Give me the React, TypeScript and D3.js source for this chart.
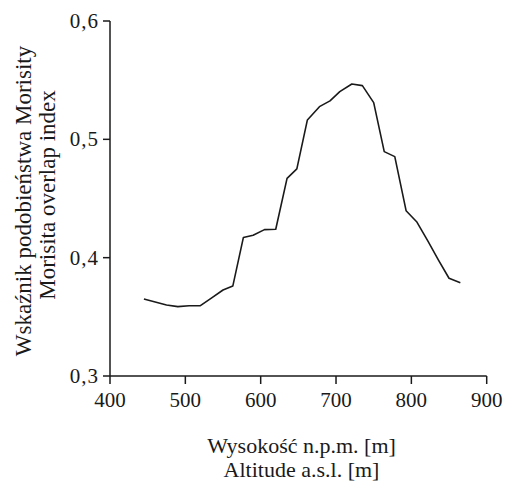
import React from "react";
import * as d3 from "d3";

const altitudes = [445, 475, 490, 505, 520, 535, 550, 563, 577, 590, 605, 620, 635, 648, 662, 678, 692, 705, 721, 735, 750, 764, 778, 793, 807, 822, 836, 850, 865];
const morisita = [0.365, 0.36, 0.3586, 0.3594, 0.3594, 0.366, 0.3727, 0.376, 0.417, 0.419, 0.4237, 0.424, 0.467, 0.475, 0.5164, 0.5276, 0.5325, 0.5403, 0.5468, 0.5454, 0.531, 0.4896, 0.4854, 0.4397, 0.4304, 0.414, 0.398, 0.3826, 0.3789];
const xTicks = [400, 500, 600, 700, 800, 900];
const yTicks = [0.3, 0.4, 0.5, 0.6];
const yTickLabels = ["0,3", "0,4", "0,5", "0,6"];
const xTitle = ["Wysokość n.p.m. [m]", "Altitude a.s.l. [m]"];
const yTitle = ["Wskaźnik podobieństwa Morisity", "Morisita overlap index"];

export default function App() {
  const W = 505, H = 483;
  const x = d3.scaleLinear().domain([400, 900]).range([110, 486.7]);
  const y = d3.scaleLinear().domain([0.3, 0.6]).range([376, 21]);
  const line = d3.line<number>().x((d, i) => x(altitudes[i])).y((d) => y(d));
  const font = "'Liberation Serif', 'Times New Roman', serif";
  const col = "#1a1a1a";
  return (
    <svg width={W} height={H} style={{ position: "absolute", left: 0, top: 0, background: "#fff" }} fontFamily={font}>
      <rect width={W} height={H} fill="#fff" />
      <line x1={x(400)} x2={x(400)} y1={y(0.6)} y2={y(0.3)} stroke={col} strokeWidth={1.5} />
      <line x1={x(400)} x2={x(900)} y1={y(0.3)} y2={y(0.3)} stroke={col} strokeWidth={1.5} />
      {yTicks.map((t, i) => (
        <g key={"y" + t}>
          <line x1={x(400) - 7} x2={x(400)} y1={y(t)} y2={y(t)} stroke={col} strokeWidth={1.5} />
          <text x={x(400) - 11} y={y(t)} dy="0.33em" textAnchor="end" fontSize={21} letterSpacing={1} fill={col}>{yTickLabels[i]}</text>
        </g>
      ))}
      {xTicks.map((t) => (
        <g key={"x" + t}>
          <line x1={x(t)} x2={x(t)} y1={y(0.3)} y2={y(0.3) + 8} stroke={col} strokeWidth={1.5} />
          <text x={x(t)} y={407} textAnchor="middle" fontSize={21} fill={col}>{t}</text>
        </g>
      ))}
      <path d={line(morisita) || ""} fill="none" stroke={col} strokeWidth={1.6} strokeLinejoin="round" />
      <text x={301.5} y={453} textAnchor="middle" fontSize={22} fill={col}>{xTitle[0]}</text>
      <text x={301.5} y={477} textAnchor="middle" fontSize={22} fill={col}>{xTitle[1]}</text>
      <g transform="rotate(-90)">
        <text x={-201} y={31} textAnchor="middle" fontSize={23} fill={col}>{yTitle[0]}</text>
        <text x={-195} y={54.5} textAnchor="middle" fontSize={23} fill={col}>{yTitle[1]}</text>
      </g>
    </svg>
  );
}
